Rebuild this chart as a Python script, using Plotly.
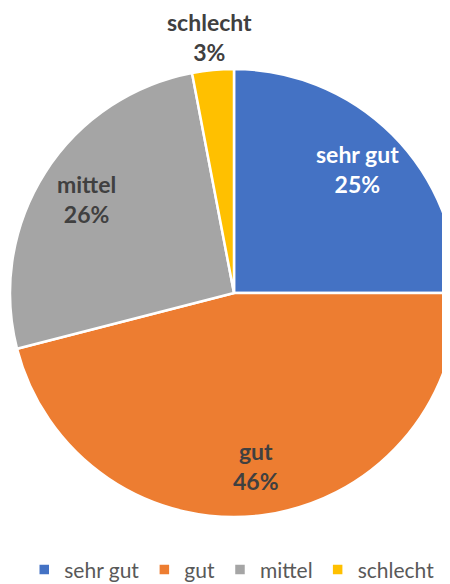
import math
import plotly.graph_objects as go

categories = ["sehr gut", "gut", "mittel", "schlecht"]
values = [25, 46, 26, 3]
colors = ["#4472C4", "#ED7D31", "#A5A5A5", "#FFC000"]
label_colors = ["#FFFFFF", "#404040", "#404040", "#404040"]
label_outside = [False, False, False, True]

FONT = "Lato"

fig = go.Figure(
    go.Pie(
        labels=categories,
        values=values,
        sort=False,
        direction="clockwise",
        rotation=0,
        marker=dict(colors=colors, line=dict(color="#FFFFFF", width=2.5)),
        textinfo="none",
        hoverinfo="label+percent",
        domain=dict(x=[0, 1], y=[0, 1]),
    )
)

# data labels placed along each slice's mid-angle (derived from the values)
total = sum(values)
cum = 0.0
annotations = []
for cat, v, col, outside in zip(categories, values, label_colors, label_outside):
    mid = (cum + v / 2) / total * 2 * math.pi
    cum += v
    k = 1.15 if outside else 0.78
    x = 0.5 + 0.5 * k * math.sin(mid)
    y = 0.5 + 0.5 * k * math.cos(mid)
    pct = round(v / total * 100)
    annotations.append(
        dict(
            x=x, y=y, xref="paper", yref="paper",
            text=f"<b>{cat}<br>{pct}%</b>",
            showarrow=False,
            xanchor="center", yanchor="middle",
            font=dict(family=FONT, size=23, color=col),
        )
    )

fig.update_layout(
    width=460,
    height=576,
    margin=dict(l=2, r=10, t=61, b=67, autoexpand=False),
    paper_bgcolor="white",
    plot_bgcolor="white",
    annotations=annotations,
    showlegend=True,
    legend=dict(
        orientation="h",
        x=0.495,
        xanchor="center",
        y=-0.118,
        yanchor="middle",
        font=dict(family=FONT, size=21, color="#595959"),
        itemwidth=30,
    ),
)

fig.write_html("out.html")
